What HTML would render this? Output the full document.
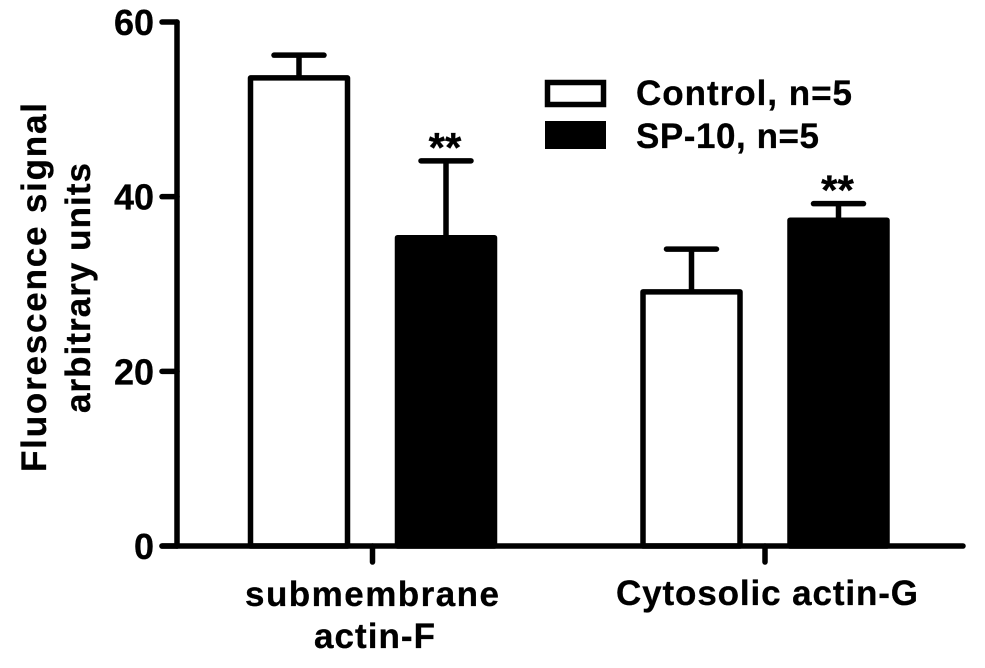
<!DOCTYPE html>
<html lang="en">
<head>
<meta charset="utf-8">
<title>Fluorescence signal bar chart</title>
<style>
html,body{margin:0;padding:0;background:#fff;width:985px;height:668px;overflow:hidden}
svg{display:block}
text{font-family:"Liberation Sans",Arial,sans-serif;font-weight:bold;fill:#000;stroke:#000;stroke-width:0.3px}
</style>
</head>
<body>
<svg id="chart" xmlns="http://www.w3.org/2000/svg" width="985" height="668" viewBox="0 0 985 668">
  <text transform="translate(46,472) rotate(-90)" font-size="35" textLength="369" lengthAdjust="spacing">Fluorescence signal</text>
  <text transform="translate(90,413) rotate(-90)" font-size="35" textLength="250" lengthAdjust="spacing">arbitrary units</text>
  <rect x="547.5" y="82.5" width="56" height="22" fill="#fff" stroke="#000" stroke-width="5.5"/>
  <rect x="545" y="121" width="61" height="28" fill="#000"/>
  <text x="636" y="105" font-size="35" textLength="216" lengthAdjust="spacing">Control, n=5</text>
  <text x="636" y="148" font-size="35" textLength="183" lengthAdjust="spacing">SP-10, n=5</text>
  <text x="245" y="606" font-size="35" textLength="254" lengthAdjust="spacing">submembrane</text>
  <text x="314" y="648" font-size="35" textLength="121" lengthAdjust="spacing">actin-F</text>
  <text x="616" y="605" font-size="35" textLength="302" lengthAdjust="spacing">Cytosolic actin-G</text>
</svg>
<script>
var categoryPositions = [0, 1];
var controlMeans = [53.6, 29.1];
var controlErrors = [2.6, 4.9];
var spMeans = [35.3, 37.3];
var spErrors = [8.8, 1.9];
var significance = ['**', '**'];
var yTicks = [0, 20, 40, 60];

var svg = document.getElementById('chart');
var NS = 'http://www.w3.org/2000/svg';
function yScale(v) { return 546 - v * (524 / 60); }
function groupCenter(i) { return 372.5 + i * 392.5; }

function add(tag, attrs, parent) {
  var el = document.createElementNS(NS, tag);
  for (var k in attrs) el.setAttribute(k, attrs[k]);
  (parent || svg).appendChild(el);
  return el;
}

function drawBar(cx, mean, err, filled, name, stars) {
  var y = yScale(mean);
  var top = yScale(mean + err);
  var whisker = add('line', {x1: cx, x2: cx, y1: y, y2: top, stroke: '#000', 'stroke-width': 5.5});
  
  
  var cap = add('line', {x1: cx - 25, x2: cx + 25, y1: top, y2: top, stroke: '#000', 'stroke-width': 5.5, 'stroke-linecap': 'round'});
  
  
  var bar = add('rect', {x: cx - 48.5, y: y, width: 97, height: 546 - y, fill: filled ? '#000' : '#fff', stroke: '#000', 'stroke-width': 5.5, 'stroke-linejoin': 'round'});
  
  
  if (stars) {
    var star = add('text', {x: cx - 1, y: top + 1, 'font-size': 42, 'text-anchor': 'middle'});
    star.textContent = stars;
    
    
  }
}

categoryPositions.forEach(function (c) {
  var center = groupCenter(c);
  drawBar(center - 73.5, controlMeans[c], controlErrors[c], false, 'bar-control-' + c, '');
  drawBar(center + 73.5, spMeans[c], spErrors[c], true, 'bar-sp10-' + c, significance[c]);
  var tick = add('line', {x1: center, x2: center, y1: 546, y2: 562, stroke: '#000', 'stroke-width': 5.5, 'stroke-linecap': 'round'});
  
  
});

var yAxis = add('line', {x1: 177, x2: 177, y1: yScale(60), y2: 546, stroke: '#000', 'stroke-width': 5.5, 'stroke-linecap': 'round'});


var xAxis = add('line', {x1: 162, x2: 963, y1: 546, y2: 546, stroke: '#000', 'stroke-width': 5.5, 'stroke-linecap': 'round'});



yTicks.forEach(function (t) {
  var y = yScale(t);
  var tick = add('line', {x1: 162, x2: 177, y1: y, y2: y, stroke: '#000', 'stroke-width': 5.5, 'stroke-linecap': 'round'});
  
  
  var label = add('text', {x: 154, y: y + 13, 'font-size': 36, 'text-anchor': 'end'});
  label.textContent = t;
  
  
});
</script>
</body>
</html>
